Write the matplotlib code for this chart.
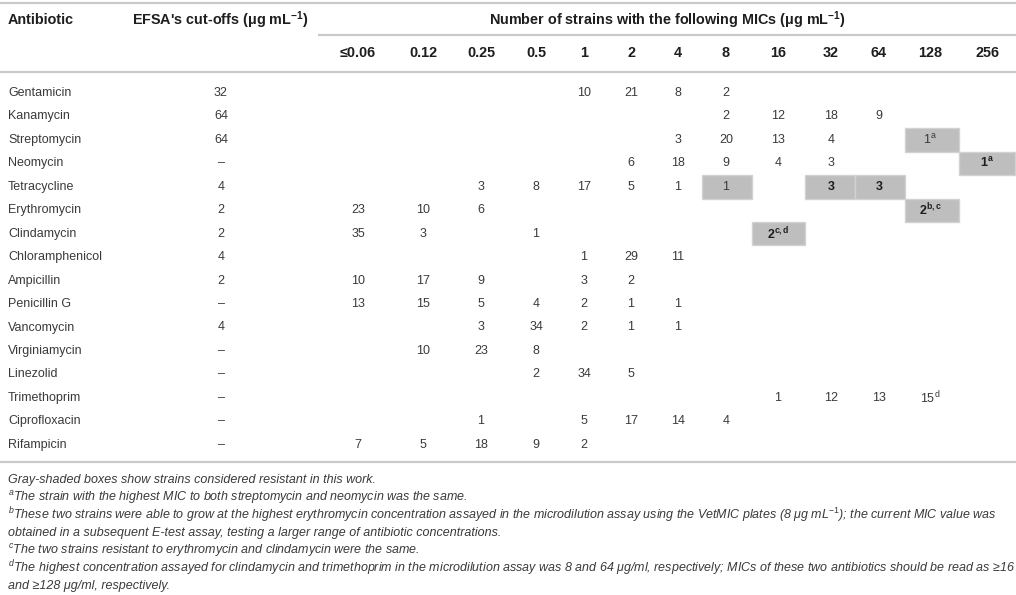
import matplotlib
matplotlib.use('Agg')
import matplotlib.pyplot as plt
from matplotlib.patches import Rectangle

# Fonts: Liberation Sans everywhere, also inside mathtext (for superscripts)
plt.rcParams['font.family'] = ['Liberation Sans', 'DejaVu Sans']
plt.rcParams['mathtext.fontset'] = 'custom'
plt.rcParams['mathtext.rm'] = 'Liberation Sans'
plt.rcParams['mathtext.it'] = 'Liberation Sans:italic'
plt.rcParams['mathtext.bf'] = 'Liberation Sans:bold'

# ---- table data ----
antibiotics = ['Gentamicin', 'Kanamycin', 'Streptomycin', 'Neomycin', 'Tetracycline',
               'Erythromycin', 'Clindamycin', 'Chloramphenicol', 'Ampicillin',
               'Penicillin G', 'Vancomycin', 'Virginiamycin', 'Linezolid',
               'Trimethoprim', 'Ciprofloxacin', 'Rifampicin']
cutoffs = ['32', '64', '64', '–', '4', '2', '2', '4', '2', '–', '4', '–', '–', '–', '–', '–']
mic_labels = ['≤0.06', '0.12', '0.25', '0.5', '1', '2', '4', '8', '16', '32', '64', '128', '256']

# number of strains per MIC (only non-empty cells)
counts = [
    {'1': 10, '2': 21, '4': 8, '8': 2},
    {'8': 2, '16': 12, '32': 18, '64': 9},
    {'4': 3, '8': 20, '16': 13, '32': 4, '128': 1},
    {'2': 6, '4': 18, '8': 9, '16': 4, '32': 3, '256': 1},
    {'0.25': 3, '0.5': 8, '1': 17, '2': 5, '4': 1, '8': 1, '32': 3, '64': 3},
    {'≤0.06': 23, '0.12': 10, '0.25': 6, '128': 2},
    {'≤0.06': 35, '0.12': 3, '0.5': 1, '16': 2},
    {'1': 1, '2': 29, '4': 11},
    {'≤0.06': 10, '0.12': 17, '0.25': 9, '1': 3, '2': 2},
    {'≤0.06': 13, '0.12': 15, '0.25': 5, '0.5': 4, '1': 2, '2': 1, '4': 1},
    {'0.25': 3, '0.5': 34, '1': 2, '2': 1, '4': 1},
    {'0.12': 10, '0.25': 23, '0.5': 8},
    {'0.5': 2, '1': 34, '2': 5},
    {'16': 1, '32': 12, '64': 13, '128': 15},
    {'0.25': 1, '1': 5, '2': 17, '4': 14, '8': 4},
    {'≤0.06': 7, '0.12': 5, '0.25': 18, '0.5': 9, '1': 2},
]

# gray-shaded (resistant) cells, bold cells and footnote marks
resistant = [('Streptomycin', '128'), ('Neomycin', '256'), ('Tetracycline', '8'),
             ('Tetracycline', '32'), ('Tetracycline', '64'), ('Erythromycin', '128'),
             ('Clindamycin', '16')]
bold_cells = [('Neomycin', '256'), ('Tetracycline', '32'), ('Tetracycline', '64'),
              ('Erythromycin', '128'), ('Clindamycin', '16')]
marks = {('Streptomycin', '128'): 'a', ('Neomycin', '256'): 'a',
         ('Erythromycin', '128'): 'b,c', ('Clindamycin', '16'): 'c,d',
         ('Trimethoprim', '128'): 'd'}

footnotes = [
    'Gray-shaded boxes show strains considered resistant in this work.',
    r'$^{a}$The strain with the highest MIC to both streptomycin and neomycin was the same.',
    r'$^{b}$These two strains were able to grow at the highest erythromycin concentration assayed '
    r'in the microdilution assay using the VetMIC plates (8 μg mL$^{\mathit{-1}}$); the current MIC value was',
    'obtained in a subsequent E-test assay, testing a larger range of antibiotic concentrations.',
    r'$^{c}$The two strains resistant to erythromycin and clindamycin were the same.',
    r'$^{d}$The highest concentration assayed for clindamycin and trimethoprim in the microdilution '
    r'assay was 8 and 64 μg/ml, respectively; MICs of these two antibiotics should be read as ≥16',
    'and ≥128 μg/ml, respectively.',
]

# ---- layout (pixel units of the 1016x595 canvas) ----
W, H = 1016, 595
col_x = [358, 423, 481, 536, 584, 631, 678, 726, 778, 831, 879, 930, 987]
row_y0, row_h = 93, 23.45
name_x, cut_x = 8, 221
line_col = '#c9c9c9'
txt_col = '#3a3a3a'
head_col = '#1e1e1e'
head_fs, body_fs, note_fs = 10.4, 9, 9.0

fig = plt.figure(figsize=(W / 100, H / 100), dpi=100)
ax = fig.add_axes([0, 0, 1, 1])
ax.set_xlim(0, W)
ax.set_ylim(H, 0)
ax.axis('off')

# column edges for the shaded boxes
edges = [(col_x[i - 1] + col_x[i]) / 2 if i > 0 else 323 for i in range(len(col_x))]
edges.append(W - 1)

# header
ax.hlines(3, 0, W, color=line_col, lw=1.6)
ax.text(name_x, 20, 'Antibiotic', fontsize=head_fs, fontweight='bold', color=head_col, va='center')
ax.text(132, 20, r"EFSA's cut-offs (μg mL$^{\mathbf{-1}}$)", fontsize=head_fs,
        fontweight='bold', color=head_col, va='center')
ax.text((318 + W) / 2, 20, r'Number of strains with the following MICs (μg mL$^{\mathbf{-1}}$)',
        fontsize=head_fs, fontweight='bold', color=head_col, va='center', ha='center')
ax.hlines(35, 318, W, color=line_col, lw=1.6)
for x, lab in zip(col_x, mic_labels):
    ax.text(x, 53, lab, fontsize=head_fs, fontweight='bold', color=head_col, va='center', ha='center')
ax.hlines(72, 0, W, color=line_col, lw=1.6)

# body rows
for i, (name, cut, row) in enumerate(zip(antibiotics, cutoffs, counts)):
    y = row_y0 + i * row_h
    ax.text(name_x, y, name, fontsize=body_fs, color=txt_col, va='center')
    ax.text(cut_x, y, cut, fontsize=body_fs, color=txt_col, va='center', ha='center')
    for mic, n in row.items():
        j = mic_labels.index(mic)
        key = (name, mic)
        if key in resistant:
            ax.add_patch(Rectangle((edges[j], y - row_h / 2), edges[j + 1] - edges[j], row_h,
                                   facecolor='#bebebe', edgecolor='#d2d2d2', lw=1, zorder=1))
        bold = key in bold_cells
        if key in marks:
            f = r'\mathbf' if bold else r'\mathrm'
            label = r'$%s{%d}^{%s{%s}}$' % (f, n, f, marks[key])
        else:
            label = str(n)
        ax.text(col_x[j], y, label, fontsize=body_fs, color=head_col if bold else txt_col,
                fontweight='bold' if bold else 'normal', va='center', ha='center', zorder=2)

ax.hlines(462, 0, W, color=line_col, lw=1.6)

# footnotes
for k, note in enumerate(footnotes):
    ax.text(name_x, 479.6 + k * 17.7, note, fontsize=note_fs, style='italic',
            color=txt_col, va='center')

fig.savefig('out.png', dpi=100)
